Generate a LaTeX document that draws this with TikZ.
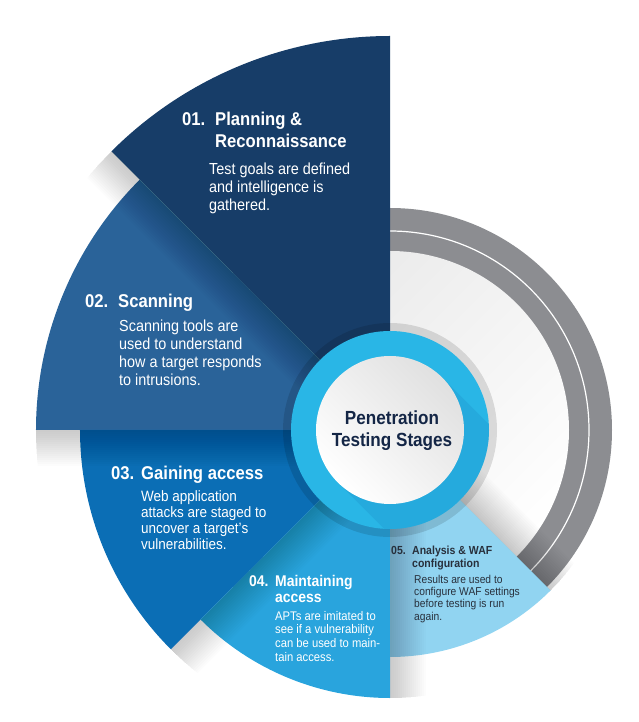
\documentclass[tikz,border=0pt]{standalone}
\usepackage{fontspec}
\setmainfont{Liberation Sans}[FakeStretch=0.9]
\definecolor{stageone}{RGB}{23,61,104}
\definecolor{stagetwo}{RGB}{42,99,153}
\definecolor{stagethree}{RGB}{11,110,181}
\definecolor{stagefour}{RGB}{41,164,221}
\definecolor{stagefive}{RGB}{145,212,241}
\definecolor{ringgray}{RGB}{140,141,145}
\definecolor{ringcyan}{RGB}{41,182,230}
\definecolor{cyanshade}{RGB}{30,150,205}
\definecolor{titlenavy}{RGB}{20,38,70}
\definecolor{darktext}{RGB}{40,48,60}

% number hangs in front of the heading lines
\newcommand\stagehead[3]{\parbox[t]{220pt}{\hangindent=#1pt\hangafter=1\makebox[#1pt][l]{#2}#3}}
\newcommand\stagebody[1]{\parbox[t]{220pt}{#1}}

\tikzset{
  headtxt/.style 2 args={anchor=base west, inner sep=0pt, text=white, font=\fontsize{#1}{#2}\selectfont\bfseries},
  bodytxt/.style 2 args={anchor=base west, inner sep=0pt, text=white, font=\fontsize{#1}{#2}\selectfont},
}

\begin{document}
\begin{tikzpicture}[x=1pt, y=1pt]
  \useasboundingbox (-390,-292) rectangle (249,430);

  % grey rings behind the stages
  \fill[ringgray] (0,0) circle (222);
  \draw[white, line width=1.2pt] (0,0) circle (199);
  \shade[top color=black!9, bottom color=white, shading angle=45] (0,0) circle (179);

  % the five stages: start angle / radius / colour
  \foreach \a/\r/\c in {90/394/stageone, 135/354/stagetwo, 180/310/stagethree, 225/268/stagefour, 270/227/stagefive}
    \fill[\c] (0,0) -- (\a:\r) arc[start angle=\a, end angle=\a+45, radius=\r] -- cycle;

  % soft shadow of each stage over the next one
  \foreach \a/\r in {135/394, 180/354, 225/310, 270/268, 315/227} {
    \begin{scope}
      \clip (0,0) -- (\a:\r) arc[start angle=\a, end angle=\a+45, radius=\r] -- cycle;
      \foreach \w in {2,4,...,36}
        \fill[black, opacity=0.012, rotate=\a] (0,0) rectangle (\r,\w);
    \end{scope}
  }

  % centre badge
  \fill[black, opacity=0.12] (0,0) circle (107);
  \fill[ringcyan] (0,0) circle (99);
  \begin{scope}
    \clip (0,0) circle (99);
    \fill[cyanshade, opacity=0.35, rotate=-45] (0,-74) rectangle (130,74);
  \end{scope}
  \shade[top color=black!12, bottom color=white, shading angle=-45] (0,0) circle (74);

  \node[anchor=base, inner sep=0pt, text=titlenavy, font=\fontsize{19}{22.4}\selectfont\bfseries] (title) at (2,5.7) {\parbox[t]{160pt}{\centering Penetration\\Testing Stages}};

  \node[headtxt={18.5}{22}] (head1) at (-208,304) {\stagehead{33}{01.}{Planning \&\\Reconnaissance}};
  \node[bodytxt={16}{18}] (body1) at (-181,255) {\stagebody{Test goals are defined\\and intelligence is\\gathered.}};

  \node[headtxt={18.5}{22}] (head2) at (-305,122) {\stagehead{33}{02.}{Scanning}};
  \node[bodytxt={16}{18}] (body2) at (-271,98) {\stagebody{Scanning tools are\\used to understand\\how a target responds\\to intrusions.}};

  \node[headtxt={18.5}{22}] (head3) at (-279,-49) {\stagehead{30}{03.}{Gaining access}};
  \node[bodytxt={15}{16.2}] (body3) at (-249,-71) {\stagebody{Web application\\attacks are staged to\\uncover a target’s\\vulnerabilities.}};

  \node[headtxt={15.5}{16.6}] (head4) at (-141,-156) {\stagehead{26}{04.}{Maintaining\\access}};
  \node[bodytxt={12.5}{13.9}] (body4) at (-115,-190) {\stagebody{APTs are imitated to\\see if a vulnerability\\can be used to main-\\tain access.}};

  \node[headtxt={11.7}{13.3}, text=darktext] (head5) at (1,-124) {\stagehead{21}{05.}{Analysis \& WAF\\configuration}};
  \node[bodytxt={11.4}{12.4}, text=darktext] (body5) at (24,-153) {\stagebody{Results are used to\\configure WAF settings\\before testing is run\\again.}};
\end{tikzpicture}
\end{document}
